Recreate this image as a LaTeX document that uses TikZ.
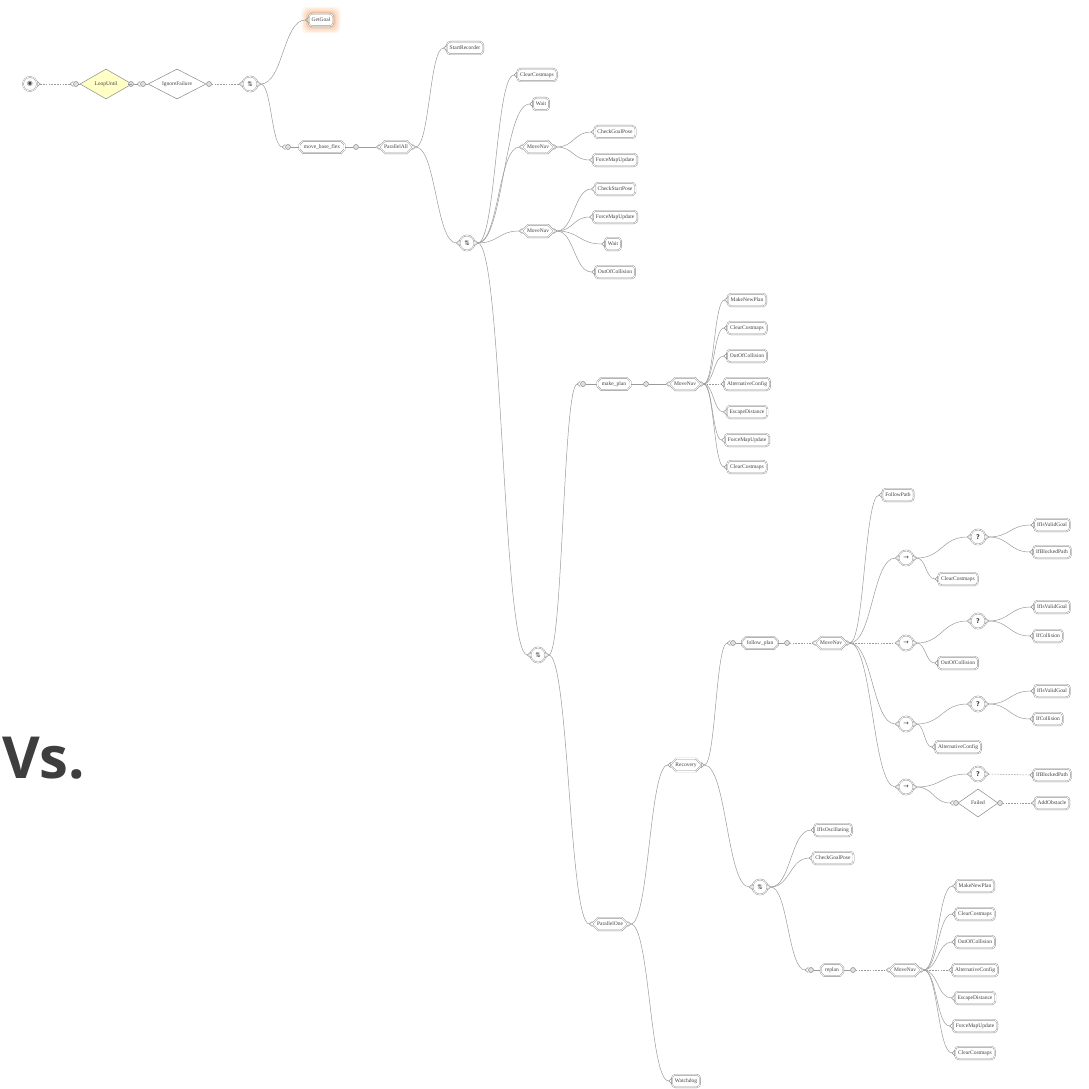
\documentclass[tikz,border=0pt]{standalone}
\usepackage{fontspec}
\setmainfont{Liberation Serif}
\newfontfamily\symfont{DejaVu Sans}
\newfontfamily\vsfont{Open Sans}
\usetikzlibrary{shapes.geometric,shapes.misc,calc,backgrounds}

\definecolor{wiregray}{HTML}{9A9A9A}
\definecolor{boxgray}{HTML}{8A8A8A}
\definecolor{labelgray}{HTML}{404040}
\definecolor{untilfill}{HTML}{FFFFC6}
\definecolor{glowcol}{HTML}{F6A56C}
\definecolor{vsgray}{HTML}{3E3E3E}

\tikzset{
  x=1pt, y=-1pt,
  wire/.style={draw=wiregray, line width=0.5pt},
  dashwire/.style={wire, dash pattern=on 1.6pt off 1.2pt},
  notch/.style={draw=boxgray, line width=0.5pt},
  box/.style={draw=boxgray, line width=0.4pt, double=white, double distance=0.7pt,
    fill=white, text=labelgray, font=\fontsize{5.5}{6}\selectfont,
    minimum height=12.5pt, inner xsep=3pt, inner ysep=1pt},
  leaf/.style={box, rounded corners=3.5pt},
  comp/.style={box, chamfered rectangle, chamfered rectangle xsep=2.5pt, inner xsep=2pt},
  subtree/.style={box, chamfered rectangle, chamfered rectangle xsep=1.5pt,
    chamfered rectangle ysep=2pt, inner xsep=3pt, minimum height=12pt},
  icon/.style={box, circle, minimum size=15pt, inner sep=0pt,
    font=\symfont\fontsize{6.5}{7}\selectfont},
  deco/.style={draw=boxgray, line width=0.5pt, diamond, aspect=1.75, fill=white,
    text=labelgray, font=\fontsize{5.5}{6}\selectfont, inner sep=0pt,
    minimum width=52pt, minimum height=30pt},
  port/.style={draw=boxgray, line width=0.5pt, circle, fill=gray!25,
    minimum size=5pt, inner sep=0pt},
}

% curved connector from a parent's output notch to a child's input notch
\newcommand\treelink[3][]{\draw[wire,#1] let \p1=([xshift=3pt]#2.east),
  \p2=([xshift=-3pt]#3.west), \n1={(\x1+\x2)/2} in
  (\p1) .. controls (\n1,\y1) and (\n1,\y2) .. (\p2);}
% same, starting from a port circle
\newcommand\portlink[3][]{\draw[wire,#1] let \p1=(#2.east),
  \p2=([xshift=-3pt]#3.west), \n1={(\x1+\x2)/2} in
  (\p1) .. controls (\n1,\y1) and (\n1,\y2) .. (\p2);}

\begin{document}
\begin{tikzpicture}
\useasboundingbox (0,0) rectangle (1089,1089);

% ---- root chain ----
\node[icon, minimum size=14pt] (root) at (30,84) {◉};
\node[port] (lul) at (76,84) {};
\node[deco, fill=untilfill] (lu) at (106,84) {LoopUntil};
\node[port] (lur) at (131,84) {};
\node[port] (igl) at (143,84) {};
\node[deco, minimum width=58pt] (ig) at (177,84) {IgnoreFailure};
\node[port] (igr) at (209,84) {};
\node[icon] (s1) at (250,84) {⇅};

\node[leaf] (gg) at (321,20) {GetGoal};
\begin{pgfonlayer}{background}
  \foreach \g/\o in {7/0.10,5.5/0.14,4/0.18,2.5/0.25,1.2/0.3}
    {\fill[glowcol, opacity=\o, rounded corners=6pt]
      ([shift={(-\g pt,-\g pt)}]gg.south west) rectangle ([shift={(\g pt,\g pt)}]gg.north east);}
\end{pgfonlayer}

\node[port] (mbfl) at (288,147) {};
\node[subtree] (mbf) at (322,147) {move\_base\_flex};
\node[port] (mbfr) at (356,147) {};
\node[comp] (pall) at (396,147) {ParallelAll};
\node[leaf] (rec) at (465,48) {StartRecorder};
\node[icon] (s2) at (467,243) {⇅};

% ---- preparation branch ----
\node[leaf] (cc1) at (537,75) {ClearCostmaps};
\node[leaf] (wait1) at (541,104) {Wait};
\node[comp] (mn1) at (538,147) {MoveNav};
\node[leaf] (cgp1) at (615,132) {CheckGoalPose};
\node[leaf] (fmu1) at (615,160) {ForceMapUpdate};
\node[comp] (mn2) at (538,231) {MoveNav};
\node[leaf] (csp) at (615,189) {CheckStartPose};
\node[leaf] (fmu2) at (615,217) {ForceMapUpdate};
\node[leaf] (wait2) at (613,244) {Wait};
\node[leaf] (ooc1) at (615,272) {OutOfCollision};
\node[icon] (s3) at (538,655) {⇅};

% ---- make_plan ----
\node[port] (mkpl) at (583,384) {};
\node[subtree] (mkp) at (614,384) {make\_plan};
\node[port] (mkpr) at (646,384) {};
\node[comp] (mn3) at (685,384) {MoveNav};
\node[leaf] (mnp1) at (747,300) {MakeNewPlan};
\node[leaf] (cc2) at (747,328) {ClearCostmaps};
\node[leaf] (ooc2) at (747,356) {OutOfCollision};
\node[leaf] (ac1) at (747,384) {AlternativeConfig};
\node[leaf] (ed1) at (747,412) {EscapeDistance};
\node[leaf] (fmu3) at (747,440) {ForceMapUpdate};
\node[leaf] (cc3) at (747,467) {ClearCostmaps};

% ---- execution ----
\node[comp] (pone) at (610,924) {ParallelOne};
\node[comp] (recov) at (686,765) {Recovery};
\node[leaf] (wd) at (686,1081) {Watchdog};

\node[port] (fpl) at (733,643) {};
\node[subtree] (fp) at (760,643) {follow\_plan};
\node[port] (fpr) at (787,643) {};
\node[comp] (mn4) at (831,643) {MoveNav};
\node[leaf] (fpath) at (898,495) {FollowPath};

\node[icon] (f1) at (906,558) {→};
\node[icon] (q1) at (978,537) {\textbf{?}};
\node[leaf] (g1) at (1052,525) {IfIsValidGoal};
\node[leaf] (bp1) at (1052,552) {IfBlockedPath};
\node[leaf] (cc4) at (958,579) {ClearCostmaps};

\node[icon] (f2) at (906,643) {→};
\node[icon] (q2) at (978,621) {\textbf{?}};
\node[leaf] (g2) at (1052,607) {IfIsValidGoal};
\node[leaf] (col1) at (1048,636) {IfCollision};
\node[leaf] (ooc3) at (958,663) {OutOfCollision};

\node[icon] (f3) at (906,724) {→};
\node[icon] (q3) at (978,704) {\textbf{?}};
\node[leaf] (g3) at (1052,691) {IfIsValidGoal};
\node[leaf] (col2) at (1048,719) {IfCollision};
\node[leaf] (ac2) at (958,747) {AlternativeConfig};

\node[icon] (f4) at (906,787) {→};
\node[icon] (q4) at (978,774) {\textbf{?}};
\node[leaf] (bp2) at (1052,775) {IfBlockedPath};
\node[port] (fdl) at (956,803) {};
\node[deco, minimum width=40pt, minimum height=28pt] (fd) at (978,803) {Failed};
\node[port] (fdr) at (1000,803) {};
\node[leaf] (addob) at (1052,803) {AddObstacle};

% ---- replanning ----
\node[icon] (s4) at (760,887) {⇅};
\node[leaf] (osc) at (833,830) {IfIsOscillating};
\node[leaf] (cgp2) at (833,858) {CheckGoalPose};
\node[port] (rpl) at (811,970) {};
\node[subtree] (rp) at (832,970) {replan};
\node[port] (rpr) at (853,970) {};
\node[comp] (mn5) at (905,970) {MoveNav};
\node[leaf] (mnp2) at (975,886) {MakeNewPlan};
\node[leaf] (cc5) at (975,914) {ClearCostmaps};
\node[leaf] (ooc4) at (975,942) {OutOfCollision};
\node[leaf] (ac3) at (975,970) {AlternativeConfig};
\node[leaf] (ed2) at (975,998) {EscapeDistance};
\node[leaf] (fmu4) at (975,1026) {ForceMapUpdate};
\node[leaf] (cc6) at (975,1053) {ClearCostmaps};

\node[anchor=west, text=vsgray, font=\vsfont\bfseries\fontsize{58}{60}\selectfont,
  inner sep=0pt] (vs) at (2,758) {Vs.};

% ---- input and output notches ----
\foreach \n in {lul,igl,s1,gg,mbfl,pall,rec,s2,cc1,wait1,mn1,mn2,s3,cgp1,fmu1,csp,fmu2,
  wait2,ooc1,mkpl,mn3,mnp1,cc2,ooc2,ac1,ed1,fmu3,cc3,pone,recov,wd,fpl,s4,mn4,fpath,
  f1,f2,f3,f4,q1,q2,q3,q4,g1,bp1,cc4,g2,col1,ooc3,g3,col2,ac2,bp2,fdl,addob,osc,cgp2,
  rpl,mn5,mnp2,cc5,ooc4,ac3,ed2,fmu4,cc6}
  {\draw[notch] ([yshift=2.6pt]\n.west) -- ([xshift=-3pt]\n.west) -- ([yshift=-2.6pt]\n.west);}
\foreach \n in {root,s1,pall,s2,mn1,mn2,s3,mn3,pone,recov,mn4,f1,f2,f3,f4,q1,q2,q3,q4,s4,mn5}
  {\draw[notch] ([yshift=2.6pt]\n.east) -- ([xshift=3pt]\n.east) -- ([yshift=-2.6pt]\n.east);}

% ---- connectors ----
\treelink[dashwire]{root}{lul}
\draw[wire] (lul.east) -- (lu.west);
\draw[wire] (lu.east) -- (lur.west);
\portlink{lur}{igl}
\draw[wire] (igl.east) -- (ig.west);
\draw[wire] (ig.east) -- (igr.west);
\portlink[dashwire]{igr}{s1}
\treelink{s1}{gg}
\treelink{s1}{mbfl}
\draw[wire] (mbfl.east) -- (mbf.west);
\draw[wire] (mbf.east) -- (mbfr.west);
\portlink{mbfr}{pall}
\treelink{pall}{rec}
\treelink{pall}{s2}

\foreach \c in {cc1,wait1,mn1,mn2,s3} {\treelink{s2}{\c}}
\foreach \c in {cgp1,fmu1} {\treelink{mn1}{\c}}
\foreach \c in {csp,fmu2,wait2,ooc1} {\treelink{mn2}{\c}}

\treelink{s3}{mkpl}
\treelink{s3}{pone}
\draw[wire] (mkpl.east) -- (mkp.west);
\draw[wire] (mkp.east) -- (mkpr.west);
\portlink{mkpr}{mn3}
\foreach \c in {mnp1,cc2,ooc2,ed1,fmu3,cc3} {\treelink{mn3}{\c}}
\treelink[dashwire]{mn3}{ac1}

\treelink{pone}{recov}
\treelink{pone}{wd}
\treelink{recov}{fpl}
\treelink{recov}{s4}
\draw[wire] (fpl.east) -- (fp.west);
\draw[wire] (fp.east) -- (fpr.west);
\portlink[dashwire]{fpr}{mn4}
\foreach \c in {fpath,f1,f3,f4} {\treelink{mn4}{\c}}
\treelink[dashwire]{mn4}{f2}

\treelink{f1}{q1} \treelink{f1}{cc4}
\treelink{q1}{g1} \treelink{q1}{bp1}
\treelink{f2}{q2} \treelink{f2}{ooc3}
\treelink{q2}{g2} \treelink{q2}{col1}
\treelink{f3}{q3} \treelink{f3}{ac2}
\treelink{q3}{g3} \treelink{q3}{col2}
\treelink{f4}{q4} \treelink{f4}{fdl}
\treelink[dashwire]{q4}{bp2}
\draw[wire] (fdl.east) -- (fd.west);
\draw[wire] (fd.east) -- (fdr.west);
\portlink[dashwire]{fdr}{addob}

\foreach \c in {osc,cgp2,rpl} {\treelink{s4}{\c}}
\draw[wire] (rpl.east) -- (rp.west);
\draw[wire] (rp.east) -- (rpr.west);
\portlink[dashwire]{rpr}{mn5}
\foreach \c in {mnp2,cc5,ooc4,ed2,fmu4,cc6} {\treelink{mn5}{\c}}
\treelink[dashwire]{mn5}{ac3}
\end{tikzpicture}
\end{document}
